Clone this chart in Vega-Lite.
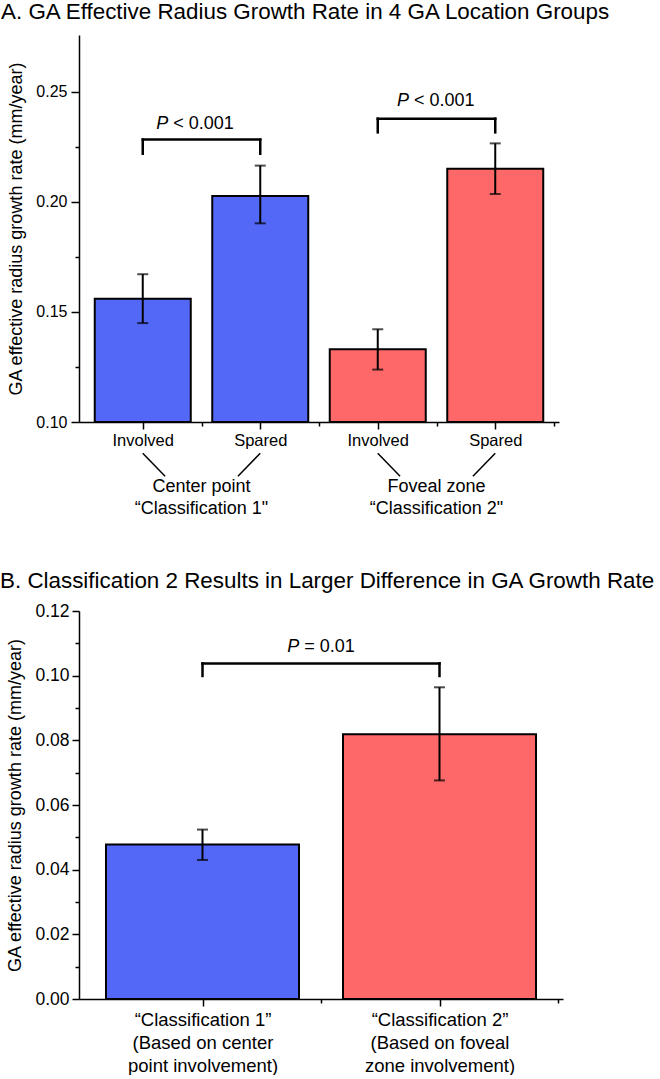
{
  "$schema": "https://vega.github.io/schema/vega-lite/v6.json",
  "background": "white",
  "padding": {"left": 0, "top": 0, "right": 0, "bottom": 0},
  "spacing": 50,
  "config": {
    "font": "Liberation Sans",
    "view": {"stroke": null},
    "axis": {"domainColor": "black", "tickColor": "black", "labelColor": "black", "titleColor": "black", "grid": false, "domainWidth": 1.5, "tickWidth": 1.5, "titleFontWeight": "normal", "labelFont": "Liberation Sans", "titleFont": "Liberation Sans"},
    "text": {"font": "Liberation Sans", "color": "black"}
  },
  "datasets": {
    "barsA": [
      {"pos": 1, "site": "Involved", "group": "Center point", "rate": 0.156, "lo": 0.1449, "hi": 0.1671},
      {"pos": 2, "site": "Spared", "group": "Center point", "rate": 0.2026, "lo": 0.1902, "hi": 0.2164},
      {"pos": 3, "site": "Involved", "group": "Foveal zone", "rate": 0.133, "lo": 0.1238, "hi": 0.1421},
      {"pos": 4, "site": "Spared", "group": "Foveal zone", "rate": 0.215, "lo": 0.2035, "hi": 0.2265}
    ],
    "bracketA": [
      {"x": 1, "x2": 2, "y": 0.2282, "y2": 0.2282},
      {"x": 1, "x2": 1, "y": 0.2282, "y2": 0.2218},
      {"x": 2, "x2": 2, "y": 0.2282, "y2": 0.2218},
      {"x": 3, "x2": 4, "y": 0.2377, "y2": 0.2377},
      {"x": 3, "x2": 3, "y": 0.2377, "y2": 0.2315},
      {"x": 4, "x2": 4, "y": 0.2377, "y2": 0.2315}
    ],
    "pA": [
      {"x": 1.45, "y": 0.2353, "rest": "< 0.001"},
      {"x": 3.5, "y": 0.2458, "rest": "< 0.001"}
    ],
    "diagA": [
      {"x": 1, "x2": 1.19, "y": 0.0858, "y2": 0.0754},
      {"x": 2, "x2": 1.81, "y": 0.0858, "y2": 0.0754},
      {"x": 3, "x2": 3.19, "y": 0.0858, "y2": 0.0754},
      {"x": 4, "x2": 3.81, "y": 0.0858, "y2": 0.0754}
    ],
    "groupA": [
      {"x": 1.5, "y": 0.0705, "label": "Center point"},
      {"x": 1.5, "y": 0.0605, "label": "“Classification 1\""},
      {"x": 3.5, "y": 0.0705, "label": "Foveal zone"},
      {"x": 3.5, "y": 0.0605, "label": "“Classification 2\""}
    ],
    "barsB": [
      {"pos": 1, "group": "Classification 1", "rate": 0.0478, "lo": 0.043, "hi": 0.0524},
      {"pos": 2, "group": "Classification 2", "rate": 0.0819, "lo": 0.0676, "hi": 0.0964}
    ],
    "bracketB": [
      {"x": 1, "x2": 2, "y": 0.1038, "y2": 0.1038},
      {"x": 1, "x2": 1, "y": 0.1038, "y2": 0.0999},
      {"x": 2, "x2": 2, "y": 0.1038, "y2": 0.0999}
    ],
    "pB": [
      {"x": 1.5, "y": 0.109, "rest": "= 0.01"}
    ]
  },
  "vconcat": [
    {
      "width": 480,
      "height": 387,
      "title": {"text": "A. GA Effective Radius Growth Rate in 4 GA Location Groups", "anchor": "start", "frame": "group", "dx": -78, "offset": 12, "fontSize": 22.4, "fontWeight": "normal", "font": "Liberation Sans", "color": "black"},
      "resolve": {"axis": {"x": "independent", "y": "independent"}},
      "layer": [
        {
          "data": {"name": "barsA"},
          "mark": {"type": "bar", "width": 96, "stroke": "black", "strokeWidth": 2},
          "encoding": {
            "x": {"field": "pos", "type": "quantitative", "scale": {"domain": [0.5, 4.5], "nice": false, "zero": false},
              "axis": {"orient": "bottom", "values": [1, 2, 3, 4], "labelExpr": "datum.value % 2 == 1 ? 'Involved' : 'Spared'", "tickSize": 7, "labelFontSize": 16.5, "labelPadding": 3, "title": null}},
            "y": {"field": "rate", "type": "quantitative", "scale": {"domain": [0.1, 0.2757], "nice": false, "zero": false},
              "axis": {"orient": "left", "values": [0.1, 0.15, 0.2, 0.25], "format": ".2f", "tickSize": 8, "labelFontSize": 16, "labelPadding": 4, "title": "GA effective radius growth rate (mm/year)", "titleFontSize": 18, "titlePadding": 10}},
            "y2": {"datum": 0.1},
            "color": {"field": "group", "type": "nominal", "scale": {"domain": ["Center point", "Foveal zone"], "range": ["#5468F7", "#FF6868"]}, "legend": null}
          }
        },
        {
          "data": {"name": "barsA"},
          "mark": {"type": "rule", "strokeWidth": 2, "color": "black"},
          "encoding": {
            "x": {"field": "pos", "type": "quantitative",
              "axis": {"orient": "bottom", "values": [1.5, 2.5, 3.5, 4.5], "labels": false, "domain": false, "tickSize": 4, "title": null}},
            "y": {"field": "lo", "type": "quantitative",
              "axis": {"orient": "left", "values": [0.125, 0.175, 0.225], "labels": false, "domain": false, "tickSize": 4, "title": null}},
            "y2": {"field": "hi"}
          }
        },
        {
          "data": {"name": "barsA"},
          "mark": {"type": "tick", "orient": "horizontal", "size": 11, "thickness": 2, "color": "black"},
          "encoding": {
            "x": {"field": "pos", "type": "quantitative", "axis": null},
            "y": {"field": "lo", "type": "quantitative", "axis": null}
          }
        },
        {
          "data": {"name": "barsA"},
          "mark": {"type": "tick", "orient": "horizontal", "size": 11, "thickness": 2, "color": "black"},
          "encoding": {
            "x": {"field": "pos", "type": "quantitative", "axis": null},
            "y": {"field": "hi", "type": "quantitative", "axis": null}
          }
        },
        {
          "data": {"name": "bracketA"},
          "mark": {"type": "rule", "strokeWidth": 2.5, "color": "black", "strokeCap": "square"},
          "encoding": {
            "x": {"field": "x", "type": "quantitative", "axis": null},
            "x2": {"field": "x2"},
            "y": {"field": "y", "type": "quantitative", "axis": null},
            "y2": {"field": "y2"}
          }
        },
        {
          "data": {"name": "pA"},
          "mark": {"type": "text", "fontStyle": "italic", "fontSize": 18, "align": "left", "baseline": "middle", "dx": -39.5},
          "encoding": {
            "x": {"field": "x", "type": "quantitative", "axis": null},
            "y": {"field": "y", "type": "quantitative", "axis": null},
            "text": {"value": "P"}
          }
        },
        {
          "data": {"name": "pA"},
          "mark": {"type": "text", "fontSize": 18, "align": "left", "baseline": "middle", "dx": -22.5},
          "encoding": {
            "x": {"field": "x", "type": "quantitative", "axis": null},
            "y": {"field": "y", "type": "quantitative", "axis": null},
            "text": {"field": "rest"}
          }
        },
        {
          "data": {"name": "diagA"},
          "mark": {"type": "rule", "strokeWidth": 1.5, "color": "black"},
          "encoding": {
            "x": {"field": "x", "type": "quantitative", "axis": null},
            "x2": {"field": "x2"},
            "y": {"field": "y", "type": "quantitative", "axis": null},
            "y2": {"field": "y2"}
          }
        },
        {
          "data": {"name": "groupA"},
          "mark": {"type": "text", "fontSize": 18, "align": "center", "baseline": "middle"},
          "encoding": {
            "x": {"field": "x", "type": "quantitative", "axis": null},
            "y": {"field": "y", "type": "quantitative", "axis": null},
            "text": {"field": "label"}
          }
        }
      ]
    },
    {
      "width": 484,
      "height": 388,
      "title": {"text": "B. Classification 2 Results in Larger Difference in GA Growth Rate", "anchor": "start", "frame": "group", "dx": -79, "offset": 10, "fontSize": 22.4, "fontWeight": "normal", "font": "Liberation Sans", "color": "black"},
      "resolve": {"axis": {"x": "independent", "y": "independent"}},
      "layer": [
        {
          "data": {"name": "barsB"},
          "mark": {"type": "bar", "width": 193, "stroke": "black", "strokeWidth": 2},
          "encoding": {
            "x": {"field": "pos", "type": "quantitative", "scale": {"domain": [0.5, 2.5], "nice": false, "zero": false},
              "axis": {"orient": "bottom", "values": [1, 2], "labelExpr": "datum.value == 1 ? ['“Classification 1”', '(Based on center', 'point involvement)'] : ['“Classification 2”', '(Based on foveal', 'zone involvement)']", "tickSize": 7, "labelFontSize": 18.5, "labelLineHeight": 23, "labelPadding": 4, "title": null}},
            "y": {"field": "rate", "type": "quantitative", "scale": {"domain": [0, 0.12], "nice": false, "zero": true},
              "axis": {"orient": "left", "values": [0, 0.02, 0.04, 0.06, 0.08, 0.1, 0.12], "format": ".2f", "tickSize": 7, "labelFontSize": 17.5, "labelPadding": 3, "title": "GA effective radius growth rate (mm/year)", "titleFontSize": 18, "titlePadding": 10}},
            "y2": {"datum": 0},
            "color": {"field": "group", "type": "nominal", "scale": {"domain": ["Classification 1", "Classification 2"], "range": ["#5468F7", "#FF6868"]}, "legend": null}
          }
        },
        {
          "data": {"name": "barsB"},
          "mark": {"type": "rule", "strokeWidth": 2, "color": "black"},
          "encoding": {
            "x": {"field": "pos", "type": "quantitative",
              "axis": {"orient": "bottom", "values": [1.5, 2.5], "labels": false, "domain": false, "tickSize": 4, "title": null}},
            "y": {"field": "lo", "type": "quantitative",
              "axis": {"orient": "left", "values": [0.01, 0.03, 0.05, 0.07, 0.09, 0.11], "labels": false, "domain": false, "tickSize": 4, "title": null}},
            "y2": {"field": "hi"}
          }
        },
        {
          "data": {"name": "barsB"},
          "mark": {"type": "tick", "orient": "horizontal", "size": 11, "thickness": 2, "color": "black"},
          "encoding": {
            "x": {"field": "pos", "type": "quantitative", "axis": null},
            "y": {"field": "lo", "type": "quantitative", "axis": null}
          }
        },
        {
          "data": {"name": "barsB"},
          "mark": {"type": "tick", "orient": "horizontal", "size": 11, "thickness": 2, "color": "black"},
          "encoding": {
            "x": {"field": "pos", "type": "quantitative", "axis": null},
            "y": {"field": "hi", "type": "quantitative", "axis": null}
          }
        },
        {
          "data": {"name": "bracketB"},
          "mark": {"type": "rule", "strokeWidth": 2.5, "color": "black", "strokeCap": "square"},
          "encoding": {
            "x": {"field": "x", "type": "quantitative", "axis": null},
            "x2": {"field": "x2"},
            "y": {"field": "y", "type": "quantitative", "axis": null},
            "y2": {"field": "y2"}
          }
        },
        {
          "data": {"name": "pB"},
          "mark": {"type": "text", "fontStyle": "italic", "fontSize": 18, "align": "left", "baseline": "middle", "dx": -33.8},
          "encoding": {
            "x": {"field": "x", "type": "quantitative", "axis": null},
            "y": {"field": "y", "type": "quantitative", "axis": null},
            "text": {"value": "P"}
          }
        },
        {
          "data": {"name": "pB"},
          "mark": {"type": "text", "fontSize": 18, "align": "left", "baseline": "middle", "dx": -16.8},
          "encoding": {
            "x": {"field": "x", "type": "quantitative", "axis": null},
            "y": {"field": "y", "type": "quantitative", "axis": null},
            "text": {"field": "rest"}
          }
        }
      ]
    }
  ]
}
